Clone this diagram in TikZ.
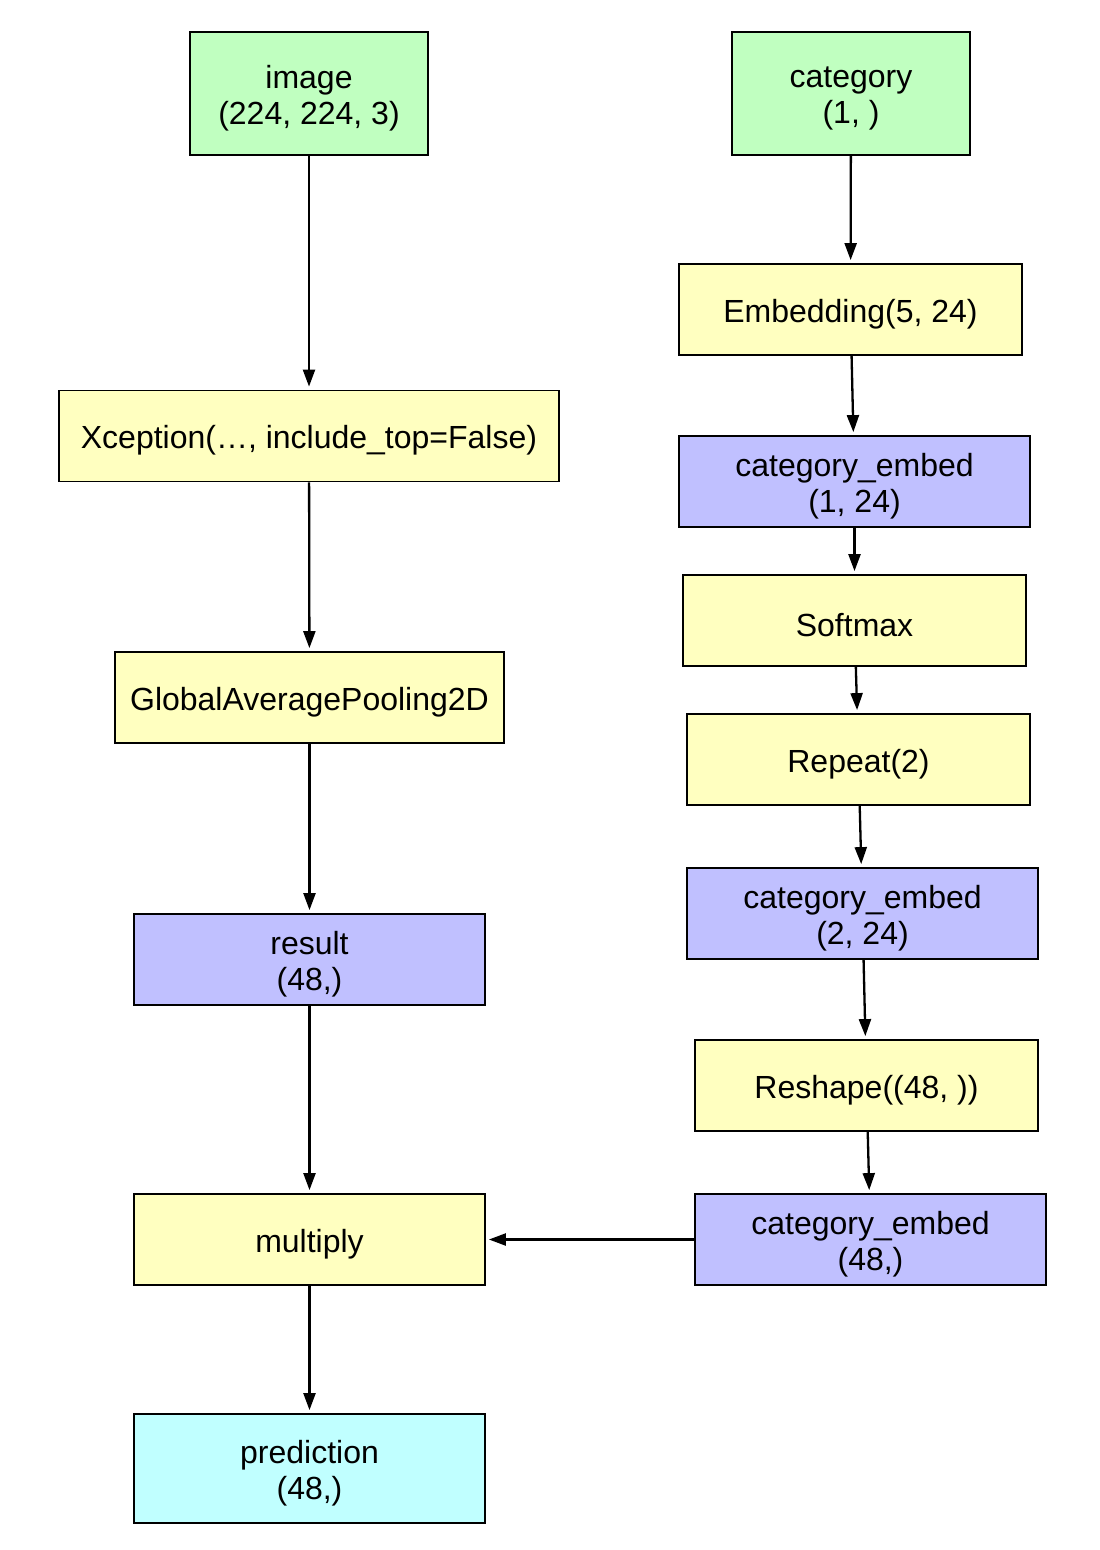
\documentclass[tikz,border=0pt]{standalone}
\usepackage{fontspec}
\setmainfont{Liberation Sans}
\usetikzlibrary{arrows.meta}
\definecolor{cgreen}{HTML}{C0FFC0}
\definecolor{cyellow}{HTML}{FFFFC0}
\definecolor{cblue}{HTML}{C0C0FF}
\definecolor{ccyan}{HTML}{C0FFFF}
\begin{document}
\begin{tikzpicture}[x=1pt,y=-1pt,
  lay/.style={draw=black, line width=1.8pt, inner sep=0pt, minimum height=91pt},
  txt/.style={inner sep=0pt, align=center, yshift=-4.5pt,
    font=\fontsize{32}{36}\selectfont},
  edge/.style={line width=2.3pt, -{Triangle[length=17pt,width=12pt]}, shorten >=3pt}]
\useasboundingbox (0,0) rectangle (1100,1550);
\node[lay, fill=cgreen, minimum width=238pt, minimum height=123pt,
  label={[txt]center:{image\\(224, 224, 3)}}] (image) at (309,93.5) {};
\node[lay, fill=cgreen, minimum width=238pt, minimum height=123pt,
  label={[txt]center:{category\\(1, )}}] (cat) at (851,93.5) {};
\node[lay, fill=cyellow, minimum width=343pt,
  label={[txt]center:{Embedding(5, 24)}}] (emb) at (850.5,309.5) {};
\node[lay, fill=cyellow, minimum width=500pt,
  label={[txt]center:{Xception(\dots, include\_top=False)}}] (xcp) at (309,436) {};
\node[lay, fill=cblue, minimum width=351pt,
  label={[txt]center:{category\_embed\\(1, 24)}}] (ce1) at (854.5,481.5) {};
\node[lay, fill=cyellow, minimum width=343pt,
  label={[txt]center:{Softmax}}] (soft) at (854.5,620.5) {};
\node[lay, fill=cyellow, minimum width=389pt,
  label={[txt]center:{GlobalAveragePooling2D}}] (gap) at (309.5,697.5) {};
\node[lay, fill=cyellow, minimum width=343pt,
  label={[txt]center:{Repeat(2)}}] (rep) at (858.5,759.5) {};
\node[lay, fill=cblue, minimum width=351pt,
  label={[txt]center:{category\_embed\\(2, 24)}}] (ce2) at (862.5,913.5) {};
\node[lay, fill=cblue, minimum width=351pt,
  label={[txt]center:{result\\(48,)}}] (res) at (309.5,959.5) {};
\node[lay, fill=cyellow, minimum width=343pt,
  label={[txt]center:{Reshape((48, ))}}] (resh) at (866.5,1085.5) {};
\node[lay, fill=cyellow, minimum width=351pt,
  label={[txt]center:{multiply}}] (mul) at (309.5,1239.5) {};
\node[lay, fill=cblue, minimum width=351pt,
  label={[txt]center:{category\_embed\\(48,)}}] (ce3) at (870.5,1239.5) {};
\node[lay, fill=ccyan, minimum width=351pt, minimum height=109pt,
  label={[txt]center:{prediction\\(48,)}}] (pred) at (309.5,1468.5) {};
\draw[edge] (image) -- (xcp);
\draw[edge] (xcp) -- (gap);
\draw[edge] (gap) -- (res);
\draw[edge] (res) -- (mul);
\draw[edge] (mul) -- (pred);
\draw[edge] (cat) -- (emb);
\draw[edge] (emb) -- (ce1);
\draw[edge] (ce1) -- (soft);
\draw[edge] (soft) -- (rep);
\draw[edge] (rep) -- (ce2);
\draw[edge] (ce2) -- (resh);
\draw[edge] (resh) -- (ce3);
\draw[edge] (ce3) -- (mul);
\end{tikzpicture}
\end{document}
